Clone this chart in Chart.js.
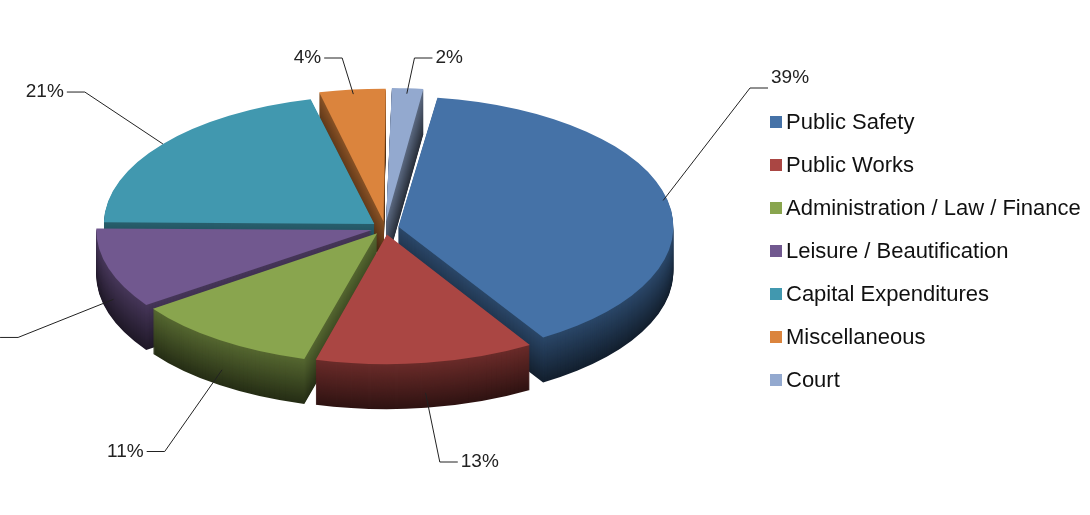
<!DOCTYPE html>
<html><head><meta charset="utf-8">
<script src="https://cdn.jsdelivr.net/npm/chart.js@4"></script>
<style>html,body{margin:0;background:#fff;overflow:hidden}#wrap{width:1090px;height:515px}</style>
</head><body><div id="wrap"><canvas id="c" width="1090" height="515"></canvas></div>
<script>
const categories = ["Public Safety","Public Works","Administration / Law / Finance","Leisure / Beautification","Capital Expenditures","Miscellaneous","Court"];
const values = [39,13,11,10,21,4,2];
const colors = ["#4572A7","#AA4643","#89A54E","#71588F","#4198AF","#DB843D","#93A9CF"];

function dark(hex,f){const n=parseInt(hex.slice(1),16);const r=(n>>16)&255,g=(n>>8)&255,b=n&255;return `rgb(${r*f|0},${g*f|0},${b*f|0})`;}
const TX=385,TY=228,RX=270,RY=128,DEPTH=45;
function setT(ctx,arc,dy){const s=RX/arc.outerRadius,sy=RY/arc.outerRadius;ctx.translate(TX,TY+dy);ctx.scale(s,sy);ctx.translate(-arc.x,-arc.y);}
const pie3d={id:'pie3d',
 beforeDatasetsDraw(chart){const ctx=chart.ctx;const arcs=chart.getDatasetMeta(0).data;
  for(let d=DEPTH;d>0;d-=1){arcs.forEach((a,i)=>{ctx.save();setT(ctx,a,d);const o=a.options.backgroundColor;a.options.backgroundColor=dark(colors[i],0.28+0.35*(1-d/DEPTH));a.draw(ctx);a.options.backgroundColor=o;ctx.restore();});}
  ctx.save();setT(ctx,arcs[0],0);},
 afterDatasetsDraw(chart){const ctx=chart.ctx;ctx.restore();const arcs=chart.getDatasetMeta(0).data;
  ctx.save();ctx.font='19px Arial, "Liberation Sans"';ctx.fillStyle='#222';ctx.strokeStyle='#222';ctx.lineWidth=1;
  arcs.forEach((a,i)=>{const m=(a.startAngle+a.endAngle)/2;const sx=RX/a.outerRadius,sy=RY/a.outerRadius;const off=a.options.offset;
   const cxs=TX+off*sx*Math.cos(m),cys=TY+off*sy*Math.sin(m);
   const ex=cxs+RX*0.85*Math.cos(m),ey=cys+RY*0.85*Math.sin(m)+(Math.sin(m)>0?DEPTH*0.7:0);
   let bx=cxs+RX*1.22*Math.cos(m),by=cys+RY*1.5*Math.sin(m)+(Math.sin(m)>0?DEPTH:0);
   const right=Math.cos(m)>=0;
   if(right&&bx>640&&by>90&&by<420){bx=750;by=by<250?88:458;}
   by=Math.max(58,Math.min(462,by));
   const hx=bx+(right?18:-18);
   ctx.beginPath();ctx.moveTo(ex,ey);ctx.lineTo(bx,by);ctx.lineTo(hx,by);ctx.stroke();
   ctx.textBaseline='middle';ctx.textAlign=right?'left':'right';ctx.fillText(values[i]+'%',hx+(right?3:-3),by-(right&&bx===750?10:0));});
  ctx.font='22px Arial, "Liberation Sans"';ctx.textAlign='left';
  categories.forEach((c,i)=>{const y=122+i*43;ctx.fillStyle=colors[i];ctx.fillRect(770,y-6,12,12);ctx.fillStyle='#111';ctx.fillText(c,786,y+1);});
  ctx.restore();}
};
new Chart(document.getElementById('c'),{type:'pie',
 data:{labels:categories,datasets:[{data:values,backgroundColor:colors,borderWidth:0,offset:40,hoverOffset:0}]},
 options:{responsive:false,animation:false,rotation:8,layout:{padding:40},plugins:{legend:{display:false},tooltip:{enabled:false}}},
 plugins:[pie3d]});
</script></body></html>
